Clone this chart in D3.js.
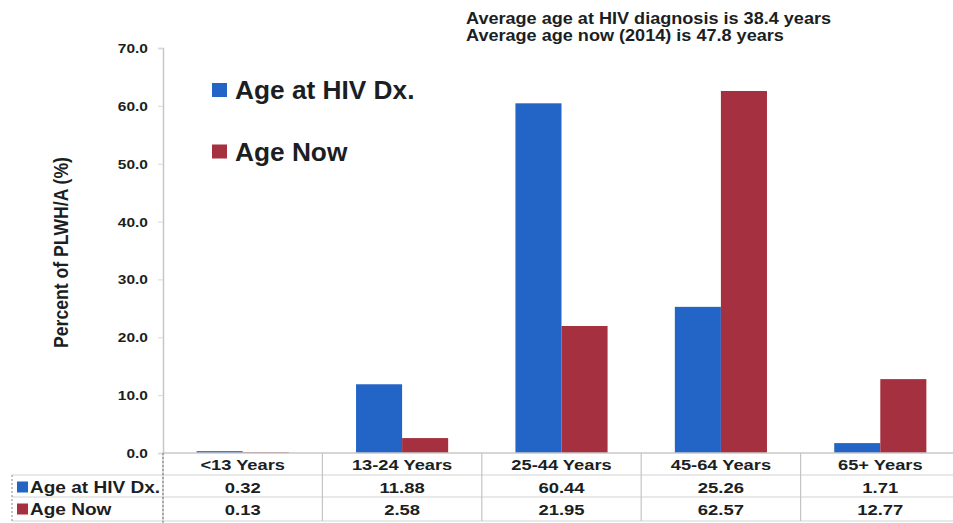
<!DOCTYPE html>
<html>
<head>
<meta charset="utf-8">
<script src="https://cdn.jsdelivr.net/npm/d3@7"></script>
<style>
  html, body { margin: 0; padding: 0; background: #fff; }
  svg { display: block; font-family: "Liberation Sans", Arial, sans-serif; }
</style>
</head>
<body>
<svg id="chart" width="953" height="523"></svg>
<script>
// Age groups and the two series (percent of PLWH/A)
const categories = ["<13 Years", "13-24 Years", "25-44 Years", "45-64 Years", "65+ Years"];
const seriesNames = ["Age at HIV Dx.", "Age Now"];
const ageAtDx = [0.32, 11.88, 60.44, 25.26, 1.71];
const ageNow = [0.13, 2.58, 21.95, 62.57, 12.77];
const yTicks = [0, 10, 20, 30, 40, 50, 60, 70];
const notes = ["Average age at HIV diagnosis is 38.4 years", "Average age now (2014) is 47.8 years"];

const colors = { "Age at HIV Dx.": "#2365c6", "Age Now": "#a5303f" };
const seriesValues = { "Age at HIV Dx.": ageAtDx, "Age Now": ageNow };

const svg = d3.select("#chart");
const textColor = "#1b1f24";
const lineColor = "#c8c8c8";

// place a text element at (x, y) with a horizontal stretch factor
function placeText(sel, x, y, sx) {
  return sel.attr("x", 0).attr("y", 0)
    .attr("transform", (d, i) => {
      const px = typeof x === "function" ? x(d, i) : x;
      const py = typeof y === "function" ? y(d, i) : y;
      return `translate(${px},${py}) scale(${sx},1)`;
    });
}

const plot = { left: 163, right: 960, top: 48, bottom: 453 };

const x0 = d3.scaleBand().domain(categories).range([plot.left, plot.right]).padding(0);
const x1 = d3.scaleBand().domain(seriesNames).range([0, x0.bandwidth()])
  .paddingInner(0).paddingOuter(0.73);
const y = d3.scaleLinear().domain([0, 70]).range([plot.bottom, plot.top]);

// y axis
const yAxis = d3.axisLeft(y).tickValues(yTicks).tickFormat(d3.format(".1f")).tickSize(5);
const gy = svg.append("g").attr("transform", `translate(${plot.left},0)`).call(yAxis);
gy.select(".domain").attr("stroke", lineColor).attr("stroke-width", 1.5);
gy.selectAll(".tick line").attr("stroke", "#d8d8d8");
gy.selectAll(".tick text")
  .attr("fill", textColor).attr("font-size", 12.5).attr("font-weight", "bold")
  .attr("font-family", "'Liberation Sans', Arial, sans-serif")
  .attr("dy", null)
  .call(s => placeText(s, -15, 4.5, 1.24));

// y axis title
svg.append("text")
  .attr("transform", `translate(68,252.5) scale(1.2,1) rotate(-90)`)
  .attr("text-anchor", "middle")
  .attr("font-size", 17.6).attr("font-weight", "bold").attr("fill", textColor)
  .text("Percent of PLWH/A (%)");

// bars
const groups = svg.append("g").selectAll("g").data(categories).join("g")
  .attr("transform", d => `translate(${x0(d)},0)`);
groups.selectAll("rect")
  .data((c, i) => seriesNames.map(s => ({ s, v: seriesValues[s][i] })))
  .join("rect")
  .attr("x", d => x1(d.s))
  .attr("width", x1.bandwidth())
  .attr("y", d => y(d.v))
  .attr("height", d => y(0) - y(d.v))
  .attr("fill", d => colors[d.s]);

// x axis baseline
svg.append("line")
  .attr("x1", plot.left).attr("x2", plot.right)
  .attr("y1", plot.bottom).attr("y2", plot.bottom)
  .attr("stroke", lineColor).attr("stroke-width", 1.5);

// data table under the chart
const rowEdges = [453, 475, 497, 521];
const tableLeft = 12;
const table = svg.append("g");

// horizontal rules
[475, 497, 521].forEach(yy => {
  table.append("line")
    .attr("x1", tableLeft).attr("x2", plot.right)
    .attr("y1", yy).attr("y2", yy)
    .attr("stroke", "#d4d4d4").attr("stroke-width", 1.2);
});
// vertical rules between categories
categories.forEach(c => {
  table.append("line")
    .attr("x1", x0(c)).attr("x2", x0(c))
    .attr("y1", plot.bottom).attr("y2", 521)
    .attr("stroke", "#c4c4c4").attr("stroke-width", 1.2);
});
table.append("line")
  .attr("x1", plot.left).attr("x2", plot.left)
  .attr("y1", plot.bottom).attr("y2", 523)
  .attr("stroke", "#777").attr("stroke-width", 1).attr("stroke-dasharray", "2,2");
table.append("line")
  .attr("x1", tableLeft).attr("x2", tableLeft)
  .attr("y1", 475).attr("y2", 521)
  .attr("stroke", "#888").attr("stroke-width", 1).attr("stroke-dasharray", "2,2");

// category labels
table.selectAll("text.cat").data(categories).join("text")
  .attr("class", "cat")
  .attr("text-anchor", "middle")
  .attr("font-size", 15).attr("font-weight", "bold").attr("fill", textColor)
  .text(d => d)
  .call(s => placeText(s, d => x0(d) + x0.bandwidth() / 2, 470, 1.22));

// value rows
seriesNames.forEach((s, r) => {
  const base = rowEdges[r + 1] + 17.5;
  table.append("rect")
    .attr("x", 17).attr("y", base - 11).attr("width", 11).attr("height", 11)
    .attr("fill", colors[s]);
  table.append("text")
    .attr("font-size", 16).attr("font-weight", "bold").attr("fill", textColor)
    .text(s)
    .call(t => placeText(t, 30, base, 1.19));
  table.selectAll(null).data(seriesValues[s]).join("text")
    .attr("text-anchor", "middle")
    .attr("font-size", 15).attr("font-weight", "bold").attr("fill", textColor)
    .text(d => d3.format(".2f")(d))
    .call(t => placeText(t, (d, i) => x0(categories[i]) + x0.bandwidth() / 2, base, 1.23));
});

// in-plot legend
const legend = svg.append("g");
const legendY = [99, 160.5];
seriesNames.forEach((s, i) => {
  const ly = legendY[i];
  legend.append("rect")
    .attr("x", 212).attr("y", ly - 16).attr("width", 15).attr("height", 14)
    .attr("fill", colors[s]);
  legend.append("text")
    .attr("font-size", 25.5).attr("font-weight", "bold").attr("fill", textColor)
    .text(s)
    .call(t => placeText(t, 235, ly, 1.03));
});

// summary notes at top
svg.append("g").selectAll("text").data(notes).join("text")
  .attr("font-size", 16.3).attr("font-weight", "bold").attr("fill", textColor)
  .text(d => d)
  .call(t => placeText(t, 466, (d, i) => 24 + i * 17, 1.11));
</script>
</body>
</html>
